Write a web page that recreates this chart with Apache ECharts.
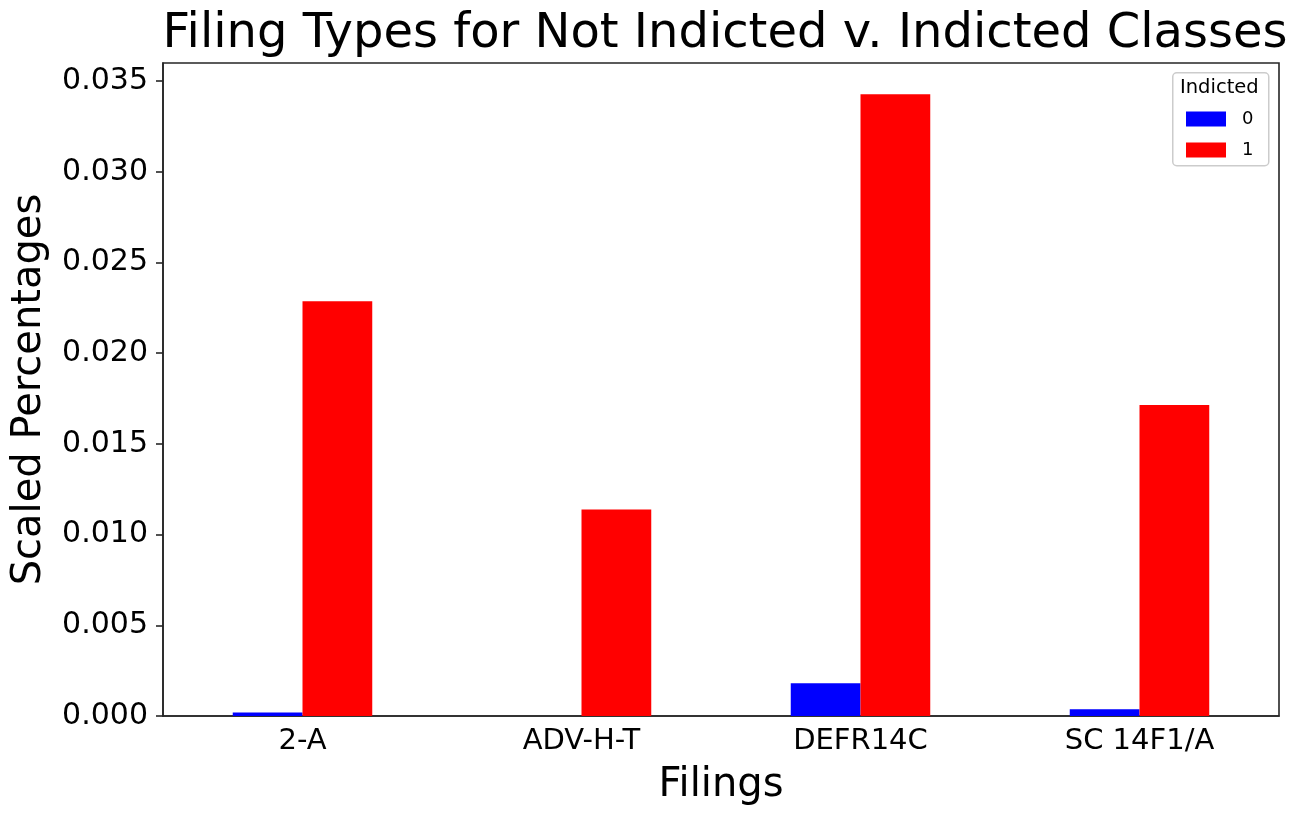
<!DOCTYPE html>
<html>
<head>
<meta charset="utf-8">
<script src="https://cdn.jsdelivr.net/npm/echarts@6/dist/echarts.min.js"></script>
<style>html,body{margin:0;padding:0;background:#fff}#main{width:1305px;height:821px}</style>
</head>
<body>
<div id="main"></div>
<script>
const categories = ['2-A', 'ADV-H-T', 'DEFR14C', 'SC 14F1/A'];
const seriesNames = ['0', '1'];
const indicted0 = [0.00019, 0.0, 0.0018, 0.00037];
const indicted1 = [0.02287, 0.01139, 0.03428, 0.01714];
const yTicks = { min: 0, max: 0.036, interval: 0.005 };

const chart = echarts.init(document.getElementById('main'));
const F = 'DejaVu Sans';
const axisCol = '#262626';
chart.setOption({
  backgroundColor: '#fff',
  animation: false,
  textStyle: { fontFamily: F },
  title: {
    text: 'Filing Types for Not Indicted v. Indicted Classes',
    left: 720, textAlign: 'center', top: 6,
    textStyle: { fontFamily: F, fontSize: 48, fontWeight: 'normal', color: '#000' }
  },
  grid: { left: 163, right: 26, top: 63, bottom: 105, show: true, borderColor: axisCol, borderWidth: 1.6 },
  legend: {
    orient: 'vertical', left: 1186, top: 110, padding: 0,
    itemWidth: 40, itemHeight: 15, itemGap: 13,
    textStyle: { fontFamily: F, fontSize: 18, color: '#000', padding: [0, 0, 0, 11] },
    data: seriesNames, icon: 'rect'
  },
  graphic: [
    { type: 'rect', left: 1172, top: 72, shape: { width: 96, height: 93, r: 4 },
      style: { fill: 'rgba(255,255,255,0.8)', stroke: '#cccccc', lineWidth: 1.5 }, z: 0 },
    { type: 'text', left: 1180, top: 78, style: { text: 'Indicted', fontFamily: F, fontSize: 19.5, fill: '#000' }, z: 1 }
  ],
  xAxis: {
    type: 'category', data: categories,
    name: 'Filings', nameLocation: 'middle', nameGap: 50,
    nameTextStyle: { fontFamily: F, fontSize: 40, color: '#000' },
    axisLine: { lineStyle: { color: axisCol, width: 1.6 } },
    axisTick: { alignWithLabel: true, length: 7, lineStyle: { color: axisCol, width: 1.6 } },
    axisLabel: { fontFamily: F, fontSize: 29, color: '#000', margin: 11 }
  },
  yAxis: {
    type: 'value', min: yTicks.min, max: yTicks.max, interval: yTicks.interval,
    name: 'Scaled Percentages', nameLocation: 'middle', nameGap: 113,
    nameTextStyle: { fontFamily: F, fontSize: 40, color: '#000' },
    axisLine: { show: true, lineStyle: { color: axisCol, width: 1.6 } },
    axisTick: { show: true, length: 7, lineStyle: { color: axisCol, width: 1.6 } },
    splitLine: { show: false },
    axisLabel: { fontFamily: F, fontSize: 30, color: '#000', margin: 15, showMaxLabel: false,
      formatter: v => v.toFixed(3) }
  },
  series: [
    { name: '0', type: 'bar', data: indicted0, barWidth: '25%', barGap: '0%', itemStyle: { color: '#0000ff' } },
    { name: '1', type: 'bar', data: indicted1, barWidth: '25%', barGap: '0%', itemStyle: { color: '#ff0000' } }
  ]
});
</script>
</body>
</html>
